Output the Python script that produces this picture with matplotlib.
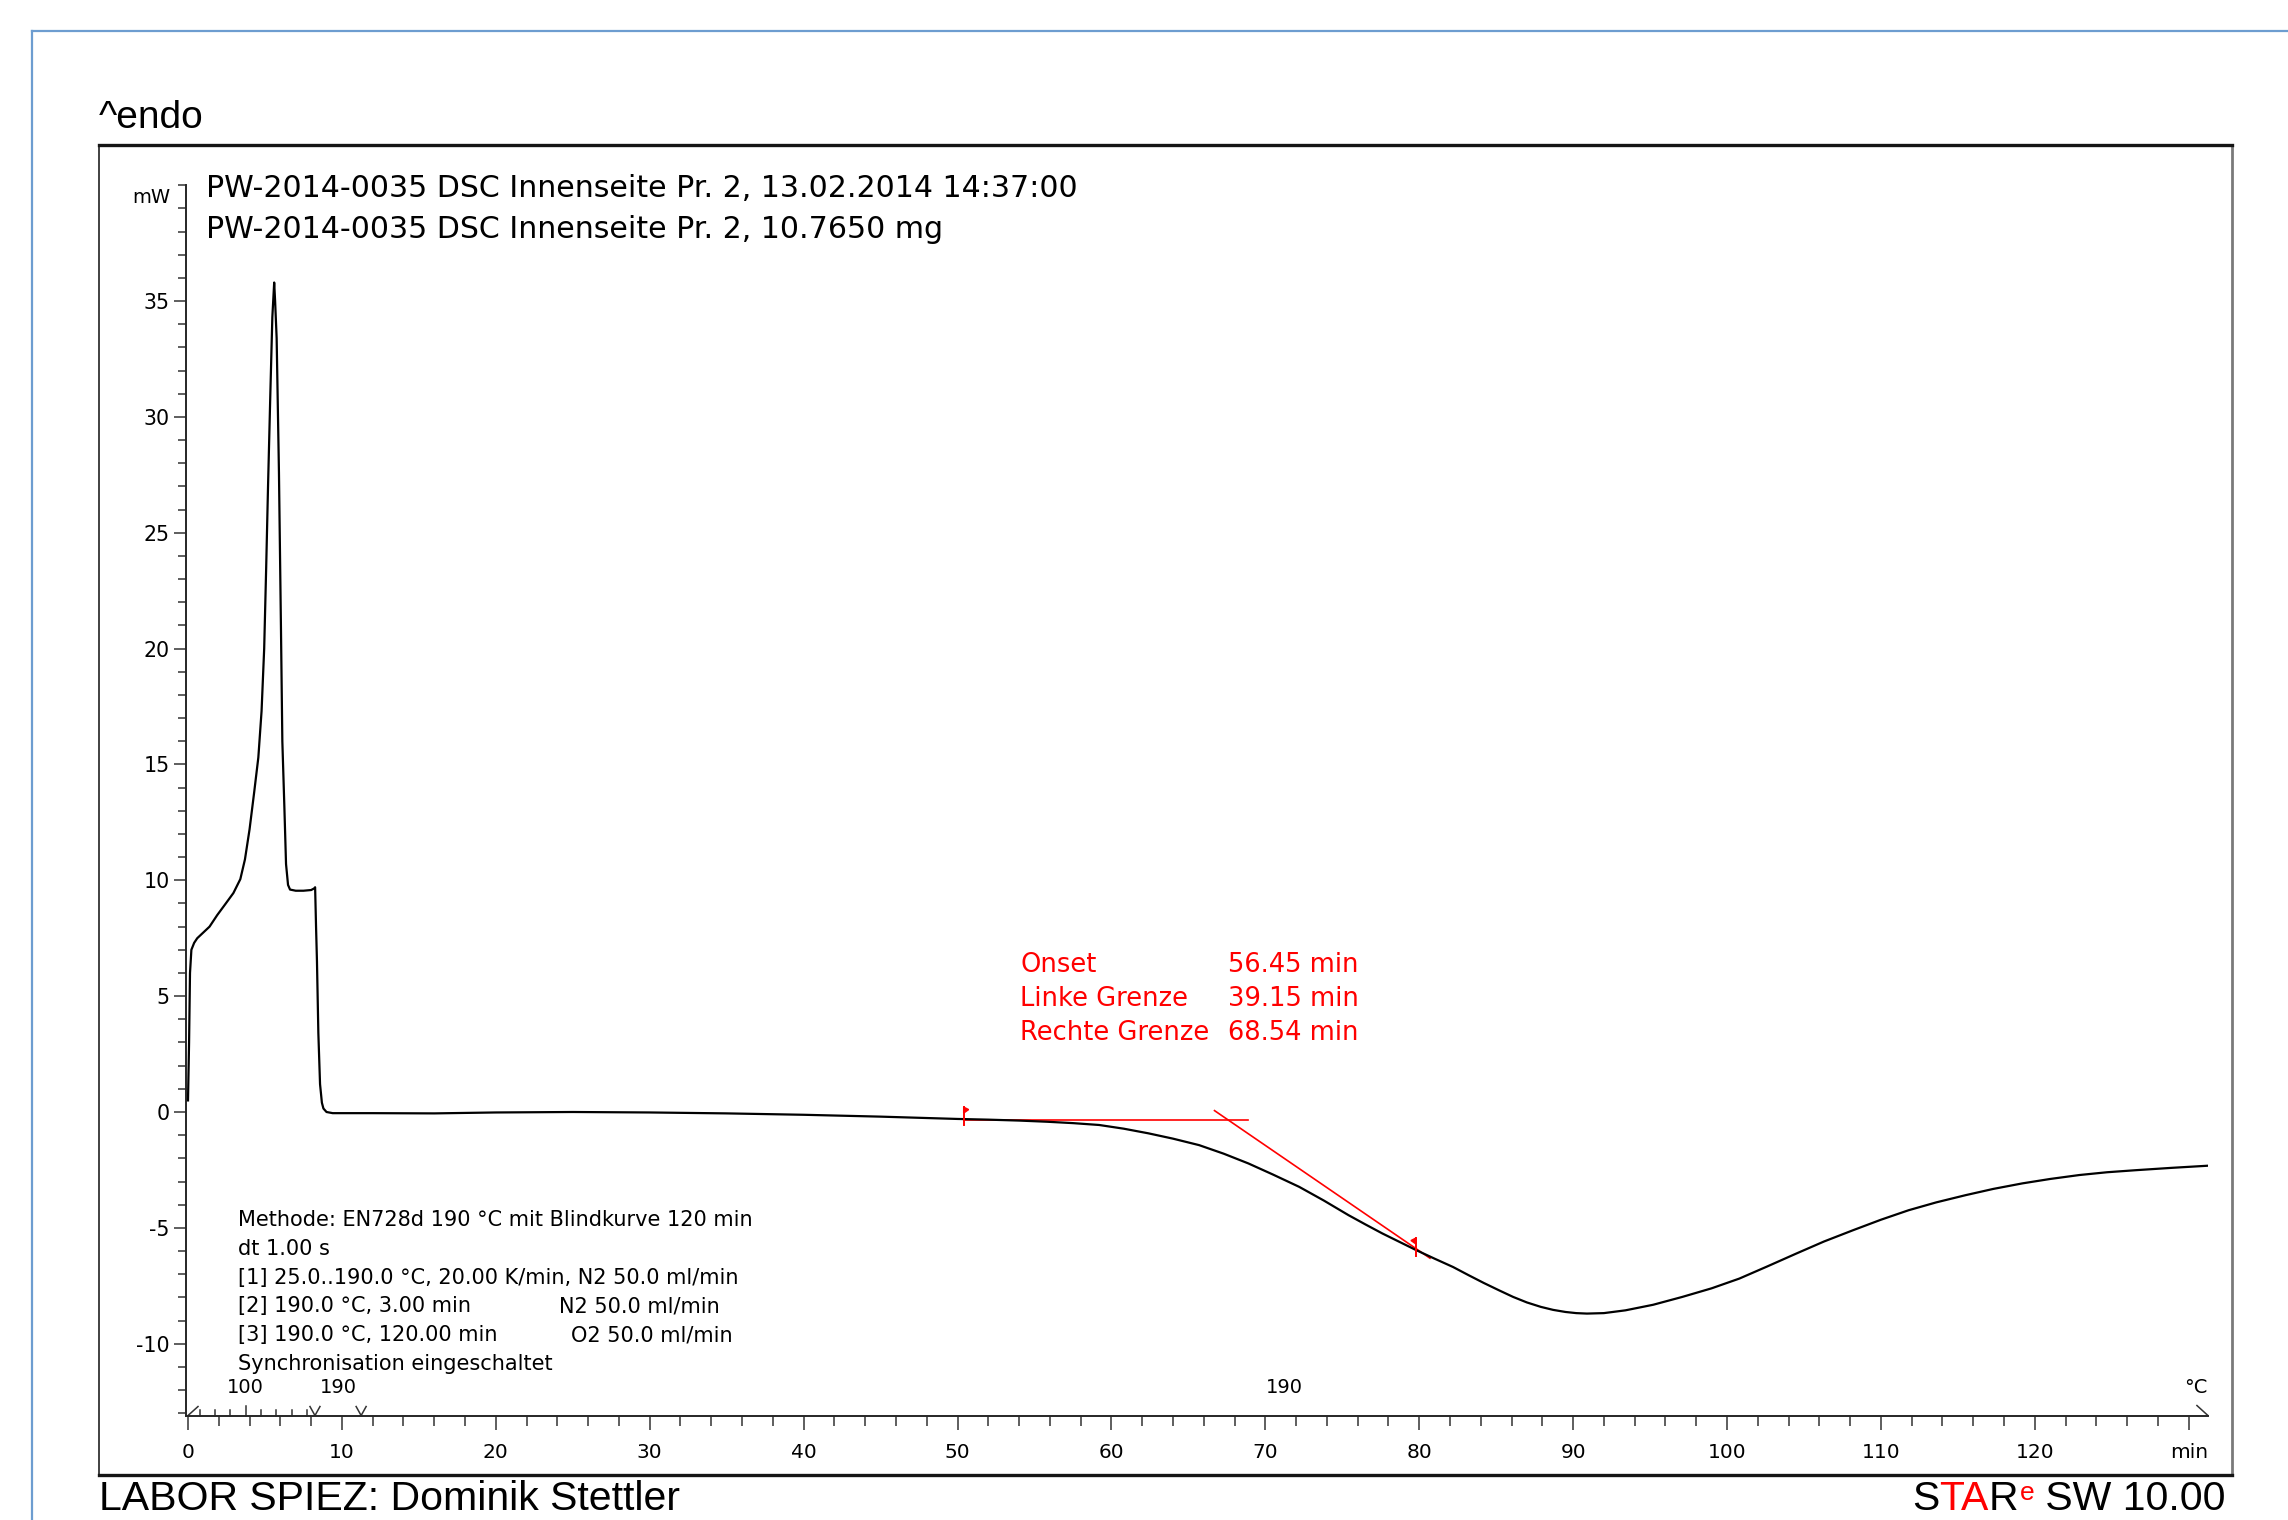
import numpy as np
import matplotlib
matplotlib.use("Agg")
import matplotlib.pyplot as plt
from matplotlib.lines import Line2D
from matplotlib.patches import Polygon

# ---------------- data ----------------
time_min = [0.00, 0.07, 0.13, 0.22, 0.40, 0.60, 1.00, 1.40, 1.90, 2.40, 2.95, 3.40,
            3.70, 4.00, 4.30, 4.57, 4.78, 4.95, 5.08, 5.20, 5.35, 5.48, 5.60, 5.66,
            5.76, 5.91, 6.04, 6.13, 6.26, 6.37, 6.50, 6.63, 7.00, 7.50, 8.00, 8.20,
            8.26, 8.32, 8.38, 8.47, 8.58, 8.70, 8.80, 9.00, 9.40, 12.0, 16.0, 20.0,
            25.0, 30.0, 35.0, 40.0, 45.0, 50.0, 52.0, 54.0, 55.8, 57.5, 59.2, 60.8,
            62.4, 64.0, 65.7, 67.3, 68.9, 70.5, 72.2, 73.8, 75.4, 76.5, 77.6, 78.7,
            79.8, 81.0, 82.2, 83.2, 84.2, 85.2, 86.1, 87.0, 87.9, 88.7, 89.5, 90.2,
            90.9, 92.0, 93.4, 95.2, 97.1, 99.0, 100.8, 102.6, 104.5, 106.3, 108.2, 110.0,
            111.8, 113.6, 115.5, 117.3, 119.2, 121.0, 122.9, 124.7, 126.6, 128.9, 131.2]
heat_flow_mw = [0.5, 3.0, 6.0, 7.0, 7.3, 7.5, 7.75, 8.0, 8.5, 8.95, 9.45, 10.05,
                10.9, 12.2, 13.8, 15.3, 17.3, 20.0, 23.5, 27.0, 31.0, 34.3, 35.8, 35.0,
                33.4, 27.6, 20.9, 16.0, 13.2, 10.7, 9.8, 9.6, 9.55, 9.55, 9.58, 9.65,
                9.7, 8.0, 6.5, 3.4, 1.2, 0.4, 0.15, 0.0, -0.05, -0.05, -0.06, -0.02,
                0.0, -0.02, -0.06, -0.12, -0.2, -0.3, -0.33, -0.37, -0.42, -0.48, -0.56, -0.72,
                -0.92, -1.15, -1.43, -1.80, -2.22, -2.70, -3.23, -3.82, -4.45, -4.85, -5.24, -5.60,
                -5.96, -6.33, -6.69, -7.04, -7.38, -7.70, -7.98, -8.22, -8.41, -8.54, -8.63, -8.68,
                -8.70, -8.68, -8.56, -8.32, -7.98, -7.61, -7.19, -6.67, -6.11, -5.59, -5.10, -4.65,
                -4.24, -3.90, -3.59, -3.32, -3.08, -2.89, -2.72, -2.60, -2.51, -2.41, -2.32]

# temperature program
segment_times = [0.0, 8.25, 11.25, 131.25]
temp_start, temp_iso, heat_rate = 25.0, 190.0, 20.0
temp_ticks = [40, 60, 80, 100, 120, 140, 160, 180]
temp_labelled = 100

# axes ticks
x_major = list(range(0, 131, 10))
x_labels = [str(v) for v in range(0, 121, 10)] + ["min"]
x_minor = list(range(0, 131, 2))
y_major = [-10, -5, 0, 5, 10, 15, 20, 25, 30, 35]
y_labels = [str(v) for v in y_major]
y_minor = list(range(-13, 41, 1))

# OIT evaluation
onset_names = ["Onset", "Linke Grenze", "Rechte Grenze"]
onset_values = [56.45, 39.15, 68.54]          # min, relative to segment 3 start
baseline_mw = -0.35
baseline_end_t = 68.9
tangent_t = [66.7, 80.7]
tangent_mw = [0.06, -6.31]

header_lines = ["PW-2014-0035 DSC Innenseite Pr. 2, 13.02.2014 14:37:00",
                "PW-2014-0035 DSC Innenseite Pr. 2, 10.7650 mg"]
method_lines = ["Methode: EN728d 190 \u00b0C mit Blindkurve 120 min",
                "dt 1.00 s",
                "[1] 25.0..190.0 \u00b0C, 20.00 K/min, N2 50.0 ml/min",
                "[2] 190.0 \u00b0C, 3.00 min",
                "[3] 190.0 \u00b0C, 120.00 min",
                "Synchronisation eingeschaltet"]
method_col2 = {3: "N2 50.0 ml/min", 4: "O2 50.0 ml/min"}

# ---------------- layout ----------------
W, H = 2288, 1520
fig = plt.figure(figsize=(W / 100, H / 100), dpi=100)
fig.patch.set_facecolor("white")


def fx(px):
    return px / W


def fy(py):
    return 1 - py / H


T0_PX, PX_PER_MIN = 188.0, 15.39
MW0_PX, PX_PER_MW = 1112.0, 23.17
PXX = 1 / PX_PER_MIN
PXY = 1 / PX_PER_MW

tahoma = ["DejaVu Sans"]
arial = ["Liberation Sans", "DejaVu Sans"]

# blue page border
fig.add_artist(Line2D([fx(32), 1.0], [fy(31), fy(31)], transform=fig.transFigure,
                      color="#6d9dd0", lw=1.6))
fig.add_artist(Line2D([fx(32), fx(32)], [fy(31), 0.0], transform=fig.transFigure,
                      color="#6d9dd0", lw=1.6))

# outer frame
fax = fig.add_axes([fx(99), fy(1475), fx(2232) - fx(99), fy(145) - fy(1475)])
fax.set_xticks([])
fax.set_yticks([])
fax.set_facecolor("white")
fax.spines["top"].set(color="#151515", lw=2.4)
fax.spines["bottom"].set(color="#151515", lw=2.4)
fax.spines["left"].set(color="#333333", lw=1.3)
fax.spines["right"].set(color="#7a7a7a", lw=2.0)

# inner data axes
xlim = (-0.1, segment_times[-1])
ylim = (-13.1, 40.0)
left = T0_PX + xlim[0] * PX_PER_MIN
right = T0_PX + xlim[1] * PX_PER_MIN
bottom = MW0_PX - ylim[0] * PX_PER_MW
top = MW0_PX - ylim[1] * PX_PER_MW
ax = fig.add_axes([fx(left), fy(bottom), fx(right) - fx(left), fy(top) - fy(bottom)])
ax.set_xlim(*xlim)
ax.set_ylim(*ylim)
ax.patch.set_alpha(0)
for s in ["top", "right"]:
    ax.spines[s].set_visible(False)
for s in ["left", "bottom"]:
    ax.spines[s].set(color="#262626", lw=1.4)

ax.set_xticks(x_major)
ax.set_xticklabels(x_labels, fontsize=14.5, family=tahoma)
ax.set_xticks(x_minor, minor=True)
ax.set_yticks(y_major)
ax.set_yticklabels(y_labels, fontsize=14.8, family=tahoma)
ax.set_yticks(y_minor, minor=True)
ax.tick_params(axis="x", which="major", direction="out", length=10, width=1.1,
               pad=9.5, color="#333333")
ax.tick_params(axis="x", which="minor", direction="out", length=7.5, width=1.1,
               color="#333333")
ax.tick_params(axis="y", which="major", direction="out", length=8.8, width=1.1,
               pad=3.4, color="#333333")
ax.tick_params(axis="y", which="minor", direction="out", length=6, width=1.1,
               color="#333333")

# temperature scale marks on the time axis
ybot = ylim[0]
tc = "#333333"
for T in temp_ticks:
    t = (T - temp_start) / heat_rate
    h = 10 if T == temp_labelled else 6
    ax.plot([t, t], [ybot, ybot + h * PXY], color=tc, lw=1.1, clip_on=False)
for t in segment_times[1:3]:
    ax.plot([t - 5 * PXX, t, t + 5 * PXX], [ybot + 9 * PXY, ybot, ybot + 9 * PXY],
            color=tc, lw=1.1, clip_on=False)
ax.plot([segment_times[0], segment_times[0] + 10 * PXX], [ybot, ybot + 9 * PXY],
        color=tc, lw=1.1, clip_on=False)
ax.plot([segment_times[-1] - 11 * PXX, segment_times[-1]], [ybot + 10 * PXY, ybot],
        color=tc, lw=1.1, clip_on=False)
lab_y = ybot + 22.5 * PXY
ax.text((temp_labelled - temp_start) / heat_rate, lab_y, str(temp_labelled),
        ha="center", va="baseline", fontsize=14, family=tahoma)
ax.text((segment_times[1] + segment_times[2]) / 2, lab_y, f"{temp_iso:.0f}",
        ha="center", va="baseline", fontsize=14, family=tahoma)
ax.text((segment_times[2] + segment_times[3]) / 2, lab_y, f"{temp_iso:.0f}",
        ha="center", va="baseline", fontsize=14, family=tahoma)
ax.text(segment_times[-1], lab_y, "\u00b0C", ha="right", va="baseline",
        fontsize=14, family=tahoma)

# OIT evaluation (red)
t_left = segment_times[2] + onset_values[1]
t_right = segment_times[2] + onset_values[2]
ax.plot([t_left, baseline_end_t], [baseline_mw, baseline_mw], color="red", lw=1.2, zorder=2)
ax.plot(tangent_t, tangent_mw, color="red", lw=1.2, zorder=2)
for t, direction in [(t_left, 1), (t_right, -1)]:
    m = float(np.interp(t, time_min, heat_flow_mw))
    ax.plot([t, t], [m + 12 * PXY, m - 6 * PXY], color="red", lw=1.4, zorder=4)
    ax.add_patch(Polygon([(t, m + 12 * PXY), (t + direction * 5 * PXX, m + 9.5 * PXY),
                          (t, m + 6 * PXY)], closed=True, color="red", zorder=4))

# curve
ax.plot(time_min, heat_flow_mw, color="black", lw=1.6, zorder=3,
        solid_joinstyle="round")

# ---------------- texts ----------------
fig.text(fx(99), fy(128), "^endo", fontsize=28, family=arial, va="baseline")
fig.text(fx(170), fy(203), "mW", fontsize=14, family=tahoma, ha="right", va="baseline")
for i, line in enumerate(header_lines):
    fig.text(fx(206), fy(196.7 + 41.3 * i), line, fontsize=21.6, family=tahoma,
             va="baseline")

for i, line in enumerate(method_lines):
    yb = 1226 + 28.8 * i
    fig.text(fx(238), fy(yb), line, fontsize=15, family=tahoma, va="baseline")
for i, txt in method_col2.items():
    yb = 1226 + 28.8 * i
    xpos = 559 if txt.startswith("N2") else 571
    fig.text(fx(xpos), fy(yb), txt, fontsize=15, family=tahoma, va="baseline")

for i, (name, val) in enumerate(zip(onset_names, onset_values)):
    yb = 971.7 + 34.2 * i
    fig.text(fx(1020), fy(yb), name, fontsize=18.5, family=tahoma, color="red",
             va="baseline")
    fig.text(fx(1228), fy(yb), f"{val:.2f} min", fontsize=18.5, family=tahoma,
             color="red", va="baseline")

FOOT_BASE = 1510
fig.text(fx(99), fy(FOOT_BASE), "LABOR SPIEZ: Dominik Stettler", fontsize=29.5,
         family=arial, va="baseline")

# STARe SW 10.00 logo line
t_s = fig.text(fx(1912), fy(FOOT_BASE), "S", fontsize=29.5, family=arial, va="baseline")
t_ta = fax.annotate("TA", xy=(1, 0), xycoords=t_s, va="bottom", ha="left",
                    fontsize=29.5, family=arial, color="red", annotation_clip=False)
t_r = fax.annotate("R", xy=(1, 0), xycoords=t_ta, va="bottom", ha="left",
                   fontsize=29.5, family=arial, color="black", annotation_clip=False)
t_e = fax.annotate("e", xy=(1, 1), xycoords=t_r, xytext=(1, -1),
                   textcoords="offset points", va="top", ha="left",
                   fontsize=19, family=arial, color="red", annotation_clip=False)
fax.annotate(" SW 10.00", xy=(1, 0), xycoords=(t_e, t_r), va="bottom", ha="left",
             fontsize=29.5, family=arial, color="black", annotation_clip=False)

fig.savefig("out.png", dpi=100, facecolor="white")
